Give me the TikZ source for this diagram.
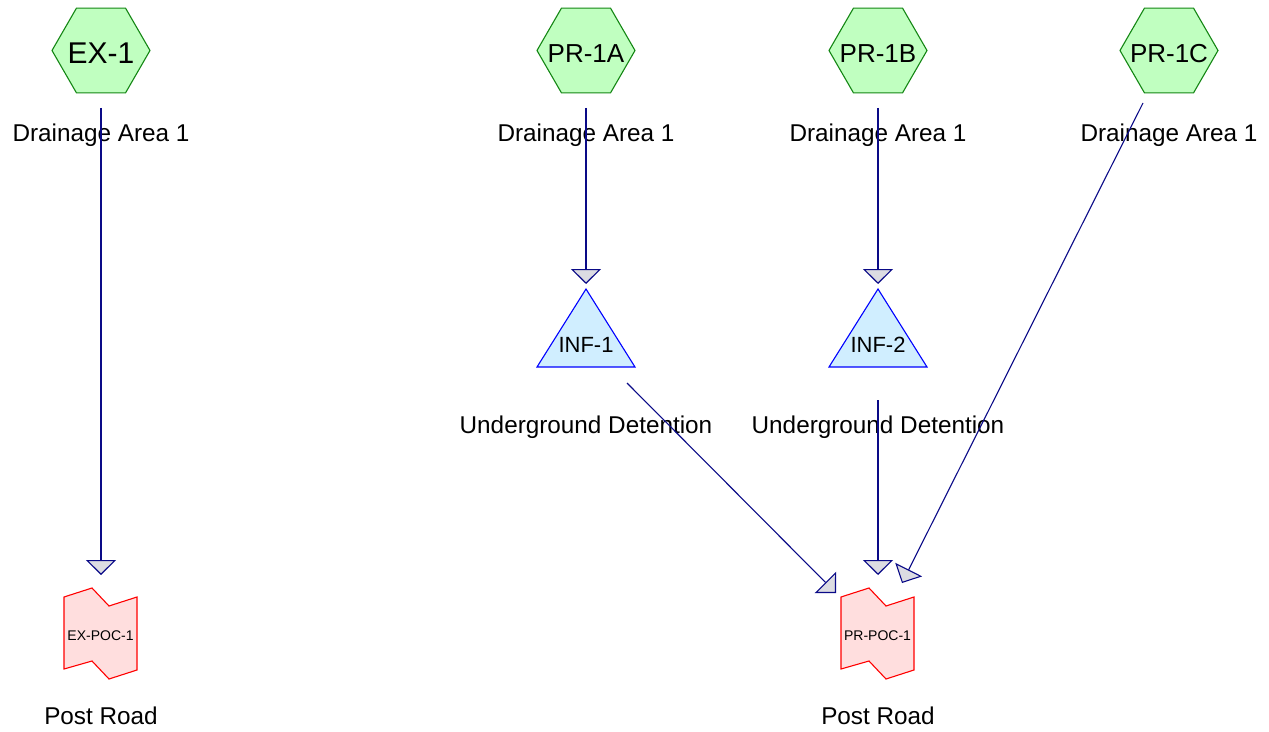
\documentclass[tikz,border=0pt]{standalone}
\usepackage{fontspec}
\setmainfont{Liberation Sans}
\usetikzlibrary{arrows.meta,shapes.geometric}
\definecolor{flowblue}{RGB}{10,10,135}
\definecolor{tipgray}{RGB}{220,220,226}
\definecolor{hexfill}{RGB}{192,255,192}
\definecolor{hexline}{RGB}{20,135,20}
\definecolor{inffill}{RGB}{208,238,255}
\definecolor{infline}{RGB}{0,0,255}
\definecolor{pocfill}{RGB}{255,222,222}
\definecolor{pocline}{RGB}{255,0,0}
\begin{document}
\begin{tikzpicture}[x=1bp,y=-1bp,
  hexa/.style={regular polygon, regular polygon sides=6, minimum size=98bp, inner sep=0pt, draw=hexline, fill=hexfill, line width=1.1bp},
  infshape/.style={draw=infline, fill=inffill, line width=1.1bp, line join=miter},
  pocshape/.style={draw=pocline, fill=pocfill, line width=1.1bp},
  lbl/.style={anchor=base, inner sep=0pt, font=\fontsize{24.3bp}{29bp}\selectfont},
  hexlbl/.style={anchor=base, inner sep=0pt, font=\fontsize{26bp}{31bp}\selectfont},
  inflbl/.style={anchor=base, inner sep=0pt, font=\fontsize{22bp}{26bp}\selectfont},
  poclbl/.style={anchor=base, inner sep=0pt, font=\fontsize{14bp}{17bp}\selectfont},
  flow/.style={draw=flowblue, line width=1.1bp, -{Triangle[width=30bp,length=15bp,fill=tipgray]}}
]
\useasboundingbox (0,0) rectangle (1269,732);

% hexagons
\node[hexa] (ex1) at (101,50.5) {};
\node[hexa] (pr1a) at (586,50.5) {};
\node[hexa] (pr1b) at (878,50.5) {};
\node[hexa] (pr1c) at (1169,50.5) {};
\node[anchor=base, inner sep=0pt, font=\fontsize{30bp}{36bp}\selectfont] (ex1t) at (101,64) {EX-1};
\node[hexlbl] (pr1at) at (586,62.5) {PR-1A};
\node[hexlbl] (pr1bt) at (878,62.5) {PR-1B};
\node[hexlbl] (pr1ct) at (1169,62.5) {PR-1C};

% triangles (INF)
\draw[infshape] (586,289) -- (537,367) -- (635,367) -- cycle;
\draw[infshape] (878,289) -- (829,367) -- (927,367) -- cycle;
\node[inflbl] (inf1t) at (586,352) {INF-1};
\node[inflbl] (inf2t) at (878,352) {INF-2};

% POC shapes
\draw[pocshape] (64,597) -- (92,588) -- (109,606) -- (137,597) -- (137,670) -- (109,679) -- (92,661) -- (64,669) -- cycle;
\draw[pocshape] (841,597) -- (869,588) -- (886,606) -- (914,597) -- (914,670) -- (886,679) -- (869,661) -- (841,669) -- cycle;
\node[poclbl] (expoct) at (100.5,640) {EX-POC-1};
\node[poclbl] (prpoct) at (877.5,640) {PR-POC-1};

% labels
\node[lbl] (ex1lbl) at (101,142) {Drainage Area 1};
\node[lbl] (pr1albl) at (586,142) {Drainage Area 1};
\node[lbl] (pr1blbl) at (878,142) {Drainage Area 1};
\node[lbl] (pr1clbl) at (1169,142) {Drainage Area 1};
\node[lbl] (inf1lbl) at (586,433) {Underground Detention};
\node[lbl] (inf2lbl) at (878,433) {Underground Detention};
\node[lbl] (expoclbl) at (101,724) {Post Road};
\node[lbl] (prpoclbl) at (878,724) {Post Road};

% connector end points
\coordinate (ex1out) at (101,108);
\coordinate (expocin) at (101,575);
\coordinate (pr1aout) at (586,108);
\coordinate (inf1in) at (586,284);
\coordinate (pr1bout) at (878,108);
\coordinate (inf2in) at (878,284);
\coordinate (inf1out) at (627,383);
\coordinate (prpocinA) at (836,593);
\coordinate (inf2out) at (878,400);
\coordinate (prpocinB) at (878,575);
\coordinate (pr1cout) at (1143,103);
\coordinate (prpocinC) at (902,583);

\draw[flow] (ex1out) -- (expocin);
\draw[flow] (pr1aout) -- (inf1in);
\draw[flow] (pr1bout) -- (inf2in);
\draw[flow] (inf1out) -- (prpocinA);
\draw[flow] (inf2out) -- (prpocinB);
\draw[flow] (pr1cout) -- (prpocinC);
\end{tikzpicture}
\end{document}
